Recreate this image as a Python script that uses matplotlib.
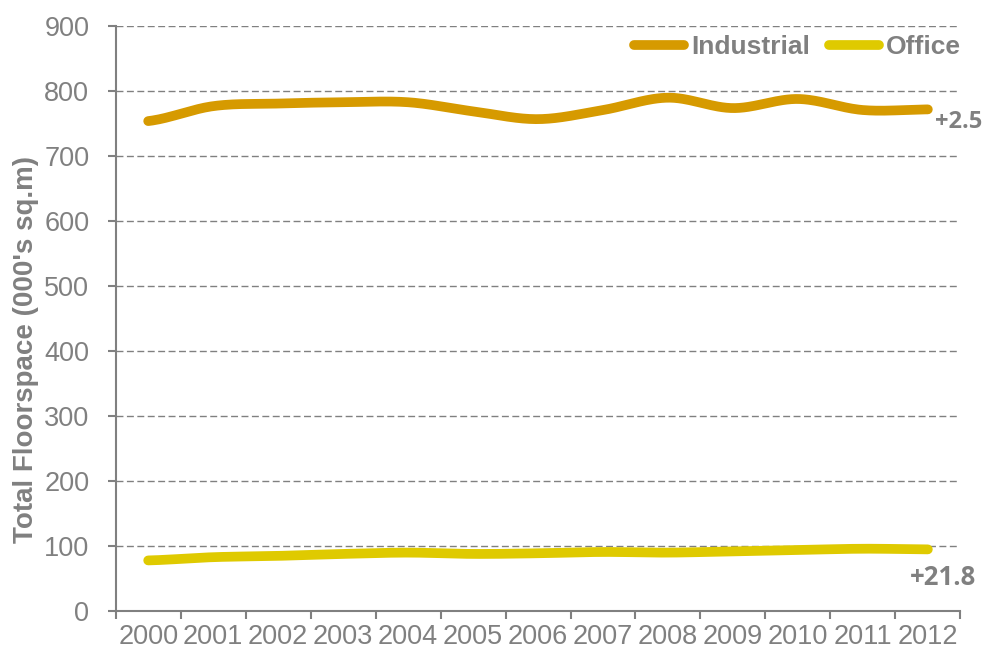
import numpy as np
import matplotlib.pyplot as plt

plt.rcParams['font.family'] = ['Liberation Sans', 'DejaVu Sans']

years = ['2000', '2001', '2002', '2003', '2004', '2005', '2006',
         '2007', '2008', '2009', '2010', '2011', '2012']
industrial = [754, 777, 781, 783, 783, 769, 757, 771, 790, 774, 788, 771, 772]
office = [78, 83, 85, 88, 90, 88, 89, 91, 90, 92, 94, 96, 95]
change_labels = ['+2.5', '+21.8']

grey = '#808080'
c_ind = '#D69A00'
c_off = '#DFCA00'


def smooth(y, n=30):
    # Catmull-Rom style smoothing, like Excel's smoothed line
    y = np.asarray(y, dtype=float)
    x = np.arange(len(y), dtype=float)
    p = np.concatenate([[y[0]], y, [y[-1]]])
    xs, ys = [], []
    for i in range(len(y) - 1):
        p0, p1, p2, p3 = p[i], p[i + 1], p[i + 2], p[i + 3]
        t = np.linspace(0, 1, n, endpoint=False)
        yy = 0.5 * ((2 * p1) + (-p0 + p2) * t + (2 * p0 - 5 * p1 + 4 * p2 - p3) * t ** 2
                    + (-p0 + 3 * p1 - 3 * p2 + p3) * t ** 3)
        xs.append(x[i] + t)
        ys.append(yy)
    xs.append([x[-1]])
    ys.append([y[-1]])
    return np.concatenate(xs), np.concatenate(ys)


fig = plt.figure(figsize=(9.89, 6.55), dpi=100)
ax = fig.add_axes([0.117, 0.067, 0.854, 0.893])

xi, yi = smooth(industrial)
xo, yo = smooth(office)
ax.plot(xi, yi, color=c_ind, lw=7, solid_capstyle='round', label='Industrial', zorder=3)
ax.plot(xo, yo, color=c_off, lw=7, solid_capstyle='round', label='Office', zorder=3)

ax.set_xlim(-0.5, len(years) - 0.5)
ax.set_ylim(0, 900)
ax.set_yticks(range(0, 901, 100))
ax.set_xticks(range(len(years)))
ax.set_xticklabels(years)
ax.set_xticks(np.arange(-0.5, len(years), 1), minor=True)
ax.tick_params(axis='x', which='major', length=0, pad=9, labelsize=19.5, labelcolor=grey)
ax.tick_params(axis='x', which='minor', length=6, width=1.5, color=grey)
ax.tick_params(axis='y', length=6, width=1.5, color=grey, labelsize=19.5, labelcolor=grey, pad=13)

for s in ['top', 'right']:
    ax.spines[s].set_visible(False)
for s in ['left', 'bottom']:
    ax.spines[s].set_color(grey)
    ax.spines[s].set_linewidth(1.5)

for v in range(100, 901, 100):
    ax.axhline(v, color=grey, lw=1, ls=(0, (5, 2.5)), zorder=1)

ax.set_ylabel("Total Floorspace (000's sq.m)", fontsize=20, fontweight='bold', color=grey)
ax.yaxis.set_label_coords(-0.091, 0.448)

ax.text(12.11, 752, change_labels[0], fontsize=17, fontweight='bold', color=grey,
        family=['Open Sans', 'DejaVu Sans'], ha='left', va='center')
ax.text(11.72, 52, change_labels[1], fontsize=18.5, fontweight='bold', color=grey,
        family=['Open Sans', 'DejaVu Sans'], ha='left', va='center')

leg = ax.legend(loc='center right', bbox_to_anchor=(1.001, 0.964), ncol=2, frameon=False,
                handlelength=1.9, handletextpad=0.27, columnspacing=0.72,
                borderpad=0, borderaxespad=0, prop={'weight': 'bold', 'size': 19})
for t in leg.get_texts():
    t.set_color(grey)

fig.savefig('out.png', dpi=100)
